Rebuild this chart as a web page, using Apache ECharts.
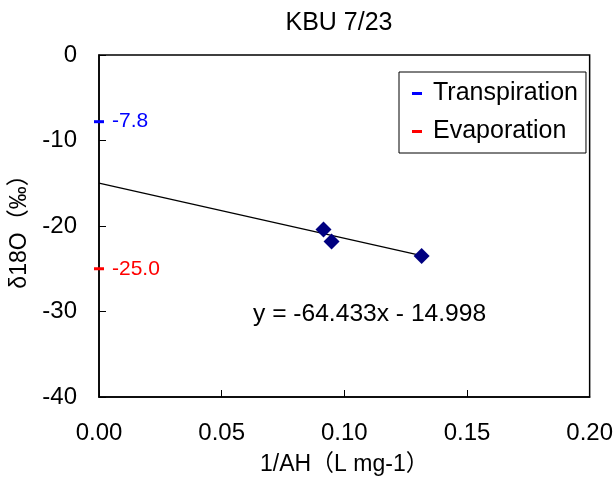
<!DOCTYPE html>
<html>
<head>
<meta charset="utf-8">
<script src="https://cdn.jsdelivr.net/npm/echarts@6/dist/echarts.min.js"></script>
<style>
  html, body { margin: 0; padding: 0; background: #fff; }
  #chart { width: 616px; height: 484px; }
</style>
</head>
<body>
<div id="chart"></div>
<script>
// measured points (1/AH, δ18O)
const pointsX = [0.0915, 0.0948, 0.1315];
const pointsY = [-20.4, -21.8, -23.5];
// regression line y = -64.433x - 14.998
const slope = -64.433;
const intercept = -14.998;
const lineX = [0, 0.1315];
// end members
const transpiration = -7.8;
const evaporation = -25.0;
const xTicks = [0, 0.05, 0.1, 0.15, 0.2];
const yTicks = [-40, -30, -20, -10, 0];

const font = 'Liberation Sans, Arial, "Noto Sans CJK SC", sans-serif';

const chart = echarts.init(document.getElementById('chart'));

const option = {
  backgroundColor: '#fff',
  animation: false,
  title: {
    text: 'KBU 7/23',
    left: 334, top: 6, textAlign: 'center',
    textStyle: { fontFamily: font, fontSize: 25, fontWeight: 'normal', color: '#000' }
  },
  grid: {
    left: 99, top: 55, right: 23, bottom: 87,
    show: true, borderColor: '#000', borderWidth: 1.5, backgroundColor: 'transparent'
  },
  legend: {
    data: ['Transpiration', 'Evaporation'],
    orient: 'vertical',
    left: 399, top: 72,
    padding: [9, 8, 9, 13],
    itemGap: 13,
    itemWidth: 10, itemHeight: 3,
    icon: 'rect',
    borderColor: '#000', borderWidth: 1,
    textStyle: { fontFamily: font, fontSize: 25, color: '#000', padding: [0, 0, 0, 6] }
  },
  xAxis: {
    type: 'value',
    min: xTicks[0], max: xTicks[xTicks.length - 1], interval: 0.05,
    name: '1/AH（L mg-1）',
    nameLocation: 'middle', nameGap: 56,
    nameTextStyle: { fontFamily: font, fontSize: 23, color: '#000' },
    axisLine: { onZero: false, lineStyle: { color: '#000', width: 1.5 } },
    axisTick: { inside: true, length: 7, lineStyle: { color: '#000' } },
    axisLabel: { margin: 24, fontFamily: font, fontSize: 24, color: '#000',
      formatter: v => v.toFixed(2) },
    splitLine: { show: false }
  },
  yAxis: {
    type: 'value',
    min: yTicks[0], max: yTicks[yTicks.length - 1], interval: 10,
    name: 'δ18O（‰）',
    nameLocation: 'middle', nameGap: 66, nameRotate: 90,
    nameTextStyle: { fontFamily: font, fontSize: 23, color: '#000' },
    axisLine: { onZero: false, lineStyle: { color: '#000', width: 1.5 } },
    axisTick: { inside: true, length: 7, lineStyle: { color: '#000' } },
    axisLabel: { margin: 22, fontFamily: font, fontSize: 24, color: '#000' },
    splitLine: { show: false }
  },
  graphic: [{
    type: 'text', left: 253, top: 302,
    style: { text: 'y = -64.433x - 14.998', fontFamily: font, fontSize: 24.6, fill: '#000' }
  }],
  series: [
    {
      name: 'fit', type: 'line', silent: true, symbol: 'none',
      lineStyle: { color: '#000', width: 1.3 },
      data: lineX.map(x => [x, slope * x + intercept]),
      z: 3
    },
    {
      name: 'points', type: 'scatter', symbol: 'diamond', symbolSize: 16,
      itemStyle: { color: '#000080', opacity: 1 },
      data: pointsX.map((x, i) => [x, pointsY[i]]),
      z: 4
    },
    {
      name: 'Transpiration', type: 'scatter', symbol: 'rect', symbolSize: [10, 3],
      itemStyle: { color: '#0000ff', opacity: 1 },
      label: { show: true, position: 'right', distance: 8, formatter: p => p.value[1].toFixed(1),
        fontFamily: font, fontSize: 21, color: '#0000ff' },
      data: [[0, transpiration]], clip: false, z: 5
    },
    {
      name: 'Evaporation', type: 'scatter', symbol: 'rect', symbolSize: [10, 3],
      itemStyle: { color: '#ff0000', opacity: 1 },
      label: { show: true, position: 'right', distance: 8, formatter: p => p.value[1].toFixed(1),
        fontFamily: font, fontSize: 21, color: '#ff0000' },
      data: [[0, evaporation]], clip: false, z: 5
    }
  ]
};

chart.setOption(option);
</script>
</body>
</html>
